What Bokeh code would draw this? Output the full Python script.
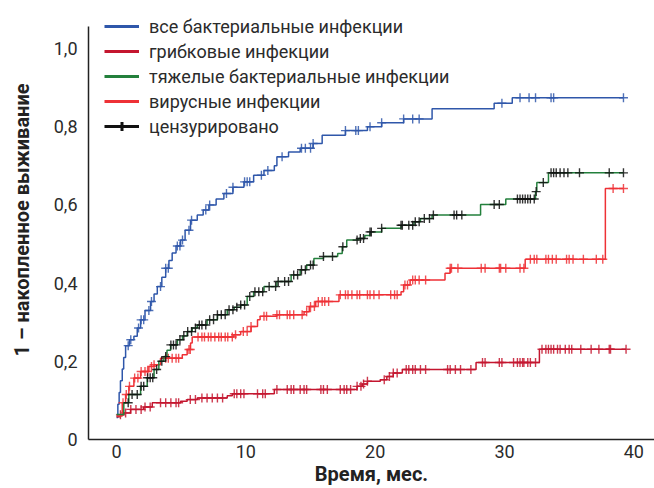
import numpy as np
from bokeh.plotting import figure
from bokeh.models import Range1d, FixedTicker, CustomJSTickFormatter, Legend, LegendItem
from bokeh.embed import file_html
from bokeh.resources import INLINE

FONT = "Roboto"

# ---------------- data ----------------
series_names = ["все бактериальные инфекции", "грибковые инфекции",
                "тяжелые бактериальные инфекции", "вирусные инфекции"]
censor_label = "цензурировано"

# all bacterial infections (step breakpoints)
bact_t = [0, 0.1, 0.2, 0.3, 0.44, 0.55, 0.7, 1.0, 1.34, 1.6, 1.86, 2.2, 2.63, 2.9, 3.15, 3.5,
          3.8, 4.05, 4.3, 4.6, 4.95, 5.3, 5.72, 6.24, 6.7, 7.14, 7.7, 8.3, 9.0, 9.85, 10.6, 11.4,
          12.2, 12.4, 13.3, 14.2, 15.2, 15.9, 17.7, 19.4, 20.5, 22.2, 24.4, 29.2, 30.6, 39.2]
bact_y = [0.056, 0.09, 0.12, 0.15, 0.18, 0.21, 0.24, 0.255, 0.264, 0.285, 0.306, 0.33, 0.353,
          0.372, 0.391, 0.415, 0.438, 0.458, 0.477, 0.495, 0.51, 0.535, 0.561, 0.574, 0.587, 0.60,
          0.615, 0.629, 0.645, 0.659, 0.676, 0.688, 0.70, 0.723, 0.735, 0.745, 0.757, 0.778, 0.79,
          0.80, 0.81, 0.82, 0.846, 0.86, 0.874, 0.874]
bact_cens = [0.9, 1.1, 1.7, 1.9, 2.1, 2.5, 2.7, 3.4, 3.8, 4.0, 4.7, 4.9, 5.1, 5.6, 5.8, 6.9, 7.2,
             8.5, 9.0, 9.9, 10.1, 10.3, 11.2, 11.7, 12.8, 14.3, 14.6, 15.0, 15.2, 17.7, 18.5, 18.7,
             19.6, 20.5, 22.2, 22.9, 23.4, 29.8, 31.2, 31.9, 32.4, 33.6, 33.8, 39.2]

# fungal infections
fung_t = [0, 0.3, 0.56, 1.08, 2.1, 2.76, 4.95, 5.46, 6.24, 8.56, 8.95, 12.2, 18.6, 19.0, 19.4,
          20.4, 20.9, 21.4, 22.1, 27.8, 32.7, 39.4]
fung_y = [0.058, 0.063, 0.068, 0.077, 0.083, 0.094, 0.098, 0.102, 0.106, 0.112, 0.117, 0.128,
          0.136, 0.142, 0.149, 0.153, 0.161, 0.17, 0.179, 0.197, 0.231, 0.231]
fung_cens = [0.3, 0.7, 1.1, 1.5, 1.9, 2.2, 2.6, 3.4, 3.8, 4.2, 4.6, 4.8, 5.7, 6.1, 6.6, 7.0, 7.4,
             7.8, 8.2, 9.1, 9.3, 9.6, 9.85, 10.9, 11.3, 11.5, 12.4, 13.2, 13.5, 13.7, 14.2, 14.5,
             14.7, 15.8, 16.0, 16.3, 17.3, 17.6, 17.8, 18.1, 18.6, 18.9, 19.1, 19.4, 20.7, 21.1,
             21.4, 21.7, 22.4, 22.6, 22.9, 23.1, 23.5, 23.9, 25.6, 25.8, 26.2, 26.6, 27.4, 28.3,
             28.5, 29.6, 29.8, 30.7, 31.0, 31.2, 31.4, 31.5, 31.8, 32.0, 32.4, 32.9, 33.2, 33.4,
             33.6, 33.8, 34.1, 34.3, 34.7, 35.0, 35.2, 35.9, 36.7, 37.3, 38.1, 38.2, 39.4]

# severe bacterial infections
sev_t = [0, 0.56, 0.95, 1.86, 2.37, 2.9, 3.27, 3.66, 3.9, 4.18, 4.7, 5.1, 5.46, 5.85, 6.24, 7.0,
         7.8, 8.56, 9.1, 9.6, 10.1, 10.6, 11.4, 12.4, 13.5, 14.2, 14.7, 15.26, 16.0, 17.1, 17.45,
         17.8, 18.7, 19.2, 19.6, 20.5, 22.0, 23.0, 23.5, 24.4, 28.15, 30.1, 32.4, 32.5, 33.4, 39.2]
sev_y = [0.064, 0.094, 0.115, 0.136, 0.158, 0.179, 0.20, 0.212, 0.228, 0.242, 0.255, 0.265,
         0.276, 0.285, 0.293, 0.306, 0.319, 0.332, 0.338, 0.344, 0.366, 0.378, 0.391, 0.404, 0.421,
         0.434, 0.446, 0.463, 0.468, 0.476, 0.493, 0.51, 0.514, 0.522, 0.531, 0.54, 0.548, 0.557,
         0.565, 0.574, 0.601, 0.615, 0.634, 0.657, 0.682, 0.682]
sev_cens = [0.9, 1.2, 1.6, 1.9, 2.1, 2.4, 2.6, 2.8, 3.1, 3.5, 3.8, 4.2, 4.4, 4.6, 4.9, 5.2, 5.5,
            5.8, 6.1, 6.4, 6.6, 6.9, 7.2, 7.5, 7.8, 8.1, 8.4, 8.7, 9.0, 9.3, 9.6, 9.9, 10.3, 10.7,
            11.0, 11.3, 11.8, 12.3, 12.5, 13.0, 13.3, 13.7, 14.0, 14.3, 14.6, 15.0, 15.2, 16.0,
            16.7, 17.5, 18.6, 18.85, 19.1, 19.6, 19.7, 20.5, 22.0, 22.1, 22.6, 22.9, 23.1, 23.4,
            23.8, 24.2, 24.5, 26.1, 26.3, 26.7, 29.2, 29.6, 31.0, 31.2, 31.4, 31.6, 31.8, 32.0,
            32.3, 32.45, 33.0, 33.6, 33.8, 34.0, 34.3, 34.6, 34.9, 35.8, 38.1, 39.2]

# viral infections
vir_t = [0, 0.44, 0.7, 0.95, 1.34, 1.86, 2.5, 2.9, 3.4, 5.08, 5.46, 5.72, 5.85, 9.07, 9.6, 10.4,
         10.9, 11.1, 12.4, 14.5, 14.9, 15.4, 17.2, 22.0, 22.2, 22.7, 25.4, 25.8, 31.6, 37.8, 39.2]
vir_y = [0.06, 0.094, 0.115, 0.136, 0.157, 0.174, 0.187, 0.191, 0.208, 0.217, 0.23, 0.247, 0.262,
         0.268, 0.276, 0.289, 0.306, 0.315, 0.319, 0.327, 0.34, 0.353, 0.37, 0.378, 0.395, 0.408,
         0.425, 0.438, 0.461, 0.642, 0.642]
vir_cens = [0.5, 0.75, 1.0, 1.4, 1.65, 1.9, 2.2, 2.4, 2.7, 2.9, 3.8, 4.0, 4.3, 4.6, 4.8, 5.6, 5.7,
            6.3, 6.6, 6.8, 7.1, 7.3, 7.6, 7.9, 8.1, 8.4, 8.6, 8.95, 9.2, 9.8, 10.1, 10.4, 11.4,
            11.6, 12.4, 12.6, 13.2, 13.4, 13.7, 14.35, 14.7, 15.0, 15.3, 15.6, 15.9, 16.1, 16.4,
            17.3, 17.7, 17.9, 18.2, 18.6, 18.8, 19.4, 19.6, 19.9, 20.3, 21.2, 21.5, 21.7, 22.3,
            22.5, 22.9, 23.1, 23.4, 23.9, 25.8, 25.9, 26.4, 28.2, 28.5, 29.6, 29.7, 30.1, 31.2,
            31.5, 32.0, 32.3, 32.5, 33.2, 33.4, 33.7, 34.0, 34.8, 35.0, 35.3, 36.1, 37.1, 37.6,
            38.4, 39.2]

x_ticks = [0, 10, 20, 30, 40]
y_ticks = [0, 0.2, 0.4, 0.6, 0.8, 1.0]
y_axis_top = 1.056   # where the drawn y-axis line ends

# ---------------- styles ----------------
C_BLUE = "#2f57aa"
C_FUNG = "#c4162f"
C_SEV = "#23803c"
C_VIR = "#ee3136"
C_TEXT = "#2b2b2b"


def step_value(ts, ys, c):
    idx = np.searchsorted(np.asarray(ts), np.asarray(c), side="right") - 1
    return np.asarray(ys)[idx]


p = figure(width=654, height=488, output_backend="svg", toolbar_location=None,
           x_range=Range1d(-2.17, 41.6), y_range=Range1d(0, 1.1228),
           min_border_left=88, min_border_right=0, min_border_top=0, min_border_bottom=49)
p.outline_line_color = None
p.grid.visible = False
p.background_fill_color = "white"
p.border_fill_color = "white"

curves = [
    (bact_t, bact_y, bact_cens, C_BLUE, C_BLUE),
    (fung_t, fung_y, fung_cens, C_FUNG, C_FUNG),
    (vir_t, vir_y, vir_cens, C_VIR, C_VIR),
    (sev_t, sev_y, sev_cens, C_SEV, "#111111"),
]
for ts, ys, cens, col, ccol in curves:
    p.step(x=ts, y=ys, mode="after", line_color=col, line_width=1.5)
    p.scatter(x=cens, y=step_value(ts, ys, cens), marker="cross", size=9,
              line_color=ccol, line_width=1.4, line_alpha=0.85)

# legend samples: renderers whose single segment lies outside the visible range
OFF_X = [-100, -99]
OFF_Y = [-5, -5]
items = []
for name, col in zip(series_names, [C_BLUE, C_FUNG, C_SEV, C_VIR]):
    r = p.line(x=OFF_X, y=OFF_Y, line_color=col, line_width=3)
    items.append(LegendItem(label=name, renderers=[r]))
rl = p.line(x=OFF_X, y=OFF_Y, line_color="#111111", line_width=3)
rc = p.scatter(x=OFF_X[:1], y=OFF_Y[:1], marker="cross", size=17, line_color="#111111",
               line_width=3)
items.append(LegendItem(label=censor_label, renderers=[rl, rc]))

legend = Legend(items=items, location=(16, 302), padding=0, margin=0, spacing=3,
                glyph_width=35, glyph_height=22, label_height=22, label_standoff=10,
                border_line_alpha=0, background_fill_alpha=0,
                label_text_font=FONT, label_text_font_size="18px", label_text_color=C_TEXT)
p.add_layout(legend)

for ax in (p.xaxis[0], p.yaxis[0]):
    ax.major_tick_line_color = None
    ax.minor_tick_line_color = None
    ax.major_tick_out = 0
    ax.major_tick_in = 0
    ax.minor_tick_out = 0
    ax.minor_tick_in = 0
    ax.axis_line_color = "#222222"
    ax.axis_line_width = 1.5
    ax.major_label_text_font = FONT
    ax.major_label_text_font_size = "18px"
    ax.major_label_text_color = C_TEXT
    ax.axis_label_text_font = FONT
    ax.axis_label_text_font_size = "20px"
    ax.axis_label_text_font_style = "bold"
    ax.axis_label_text_color = "#222222"

p.yaxis.bounds = (0, y_axis_top)
p.xaxis.ticker = FixedTicker(ticks=x_ticks)
p.yaxis.ticker = FixedTicker(ticks=y_ticks)
p.yaxis.formatter = CustomJSTickFormatter(
    code="return tick == 0 ? '0' : tick.toFixed(1).replace('.', ',');")
p.xaxis.axis_label = "Время, мес."
p.yaxis.axis_label = "1 – накопленное выживание"
p.xaxis.major_label_standoff = 5
p.yaxis.major_label_standoff = 11
p.xaxis.axis_label_standoff = 1
p.yaxis.axis_label_standoff = 17

open("out.html", "w").write(file_html(p, INLINE))
